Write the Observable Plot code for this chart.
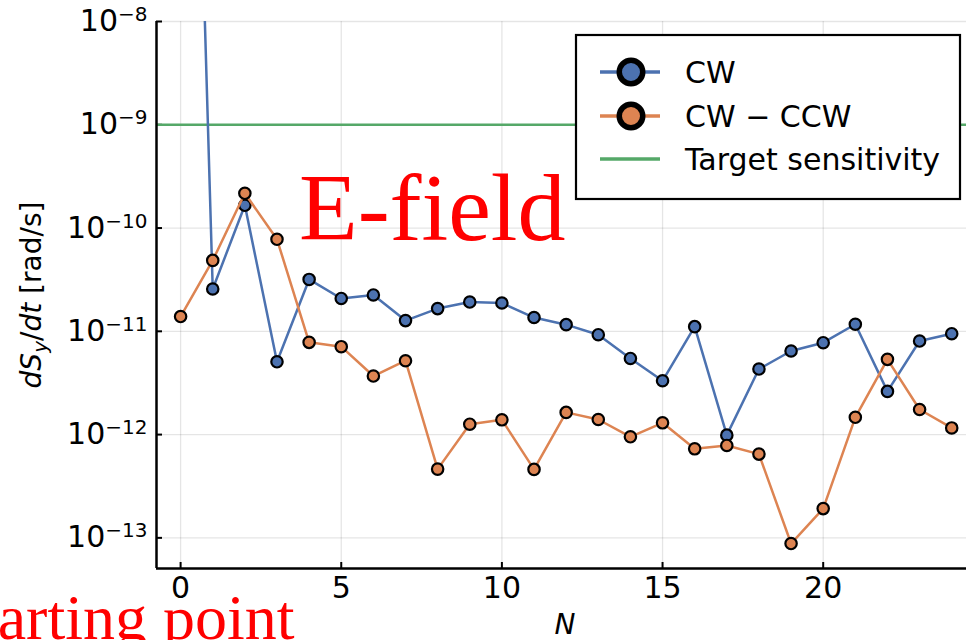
<!DOCTYPE html>
<html><head><meta charset="utf-8">
<script src="https://cdn.jsdelivr.net/npm/d3@7"></script>
<script src="https://cdn.jsdelivr.net/npm/@observablehq/plot@0.6"></script>
<style>html,body{margin:0;padding:0;background:#fff;} svg{display:block}</style>
</head><body><div id="chart"></div>
<script>
// ---- data ----
const N = [0,1,2,3,4,5,6,7,8,9,10,11,12,13,14,15,16,17,18,19,20,21,22,23,24];
const cw = [1.0, 2.57e-11, 1.66e-10, 5.07e-12, 3.18e-11, 2.08e-11, 2.25e-11, 1.27e-11, 1.66e-11, 1.92e-11, 1.88e-11, 1.36e-11, 1.16e-11, 9.27e-12, 5.46e-12, 3.32e-12, 1.11e-11, 9.88e-13, 4.31e-12, 6.45e-12, 7.76e-12, 1.17e-11, 2.62e-12, 8.05e-12, 9.48e-12];
const cwMinusCcw = [1.39e-11, 4.86e-11, 2.17e-10, 7.78e-11, 7.82e-12, 7.1e-12, 3.69e-12, 5.19e-12, 4.63e-13, 1.26e-12, 1.39e-12, 4.6e-13, 1.64e-12, 1.40e-12, 9.52e-13, 1.30e-12, 7.28e-13, 7.85e-13, 6.47e-13, 8.81e-14, 1.92e-13, 1.47e-12, 5.35e-12, 1.75e-12, 1.16e-12];
const targetSensitivity = [1e-9];
const seriesNames = ["CW", "CW \u2212 CCW", "Target sensitivity"];
const seriesColors = ["#4c72b0", "#dd8452", "#55a868"];
const xTicks = [0, 5, 10, 15, 20];
const yTicks = [1e-13, 1e-12, 1e-11, 1e-10, 1e-9, 1e-8];
const yTickExponents = ["\u221213", "\u221212", "\u221211", "\u221210", "\u22129", "\u22128"];
const xDomain = [-0.75, 24.46];
const yDomain = [5.05e-14, 1e-8];
const annotations = ["E-field", "starting point"];

// ---- layout ----
const W = 966, H = 640, mL = 156, mR = 0, mT = 21, mB = 72;
const frameW = W - mL - mR, frameH = H - mT - mB;

const cwData = N.map((n, i) => ({n, v: cw[i]}));
const diffData = N.map((n, i) => ({n, v: cwMinusCcw[i]}));

const plot = Plot.plot({
  width: W, height: H,
  marginLeft: mL, marginRight: mR, marginTop: mT, marginBottom: mB,
  style: {fontFamily: "DejaVu Sans", background: "white", color: "black"},
  x: {domain: xDomain},
  y: {type: "log", domain: yDomain},
  marks: [
    Plot.gridX(xTicks, {stroke: "black", strokeOpacity: 0.1, strokeWidth: 1.3}),
    Plot.gridY(yTicks, {stroke: "black", strokeOpacity: 0.1, strokeWidth: 1.3}),
    Plot.tickX(xTicks, {x: d => d, stroke: "black", strokeWidth: 2, insetTop: frameH - 6}),
    Plot.tickY(yTicks, {y: d => d, stroke: "black", strokeWidth: 2, insetRight: frameW - 6}),
    Plot.ruleY(targetSensitivity, {stroke: seriesColors[2], strokeWidth: 2.5}),
    Plot.line(cwData, {x: "n", y: "v", stroke: seriesColors[0], strokeWidth: 2.5, clip: true}),
    Plot.dot(cwData, {x: "n", y: "v", r: 5.7, fill: seriesColors[0], stroke: "black", strokeWidth: 2.2, clip: true}),
    Plot.line(diffData, {x: "n", y: "v", stroke: seriesColors[1], strokeWidth: 2.5, clip: true}),
    Plot.dot(diffData, {x: "n", y: "v", r: 5.7, fill: seriesColors[1], stroke: "black", strokeWidth: 2.2, clip: true}),
    Plot.axisX(xTicks, {tickSize: 0, tickPadding: 8, fontSize: 30, label: null, tickFormat: d => String(d)}),
    Plot.axisY(yTicks, {tickSize: 0, tickPadding: 9, fontSize: 30, label: null,
      tickFormat: d => "10^" + yTickExponents[yTicks.indexOf(d)]}),
    Plot.ruleX([xDomain[0]], {stroke: "black", strokeWidth: 2.5}),
    Plot.ruleY([yDomain[0]], {stroke: "black", strokeWidth: 2.5})
  ]
});
document.getElementById("chart").appendChild(plot);

const svg = d3.select(plot);

// superscript tick labels
svg.selectAll('g[aria-label="y-axis tick label"] text').each(function() {
  const t = this.textContent;
  if (!t.includes("^")) return;
  const [base, exp] = t.split("^");
  const s = d3.select(this);
  s.text(null);
  s.append("tspan").text(base);
  s.append("tspan").attr("dy", "-10").attr("font-size", "20px").text(exp);
});

// axis labels
const yl = svg.append("text")
  .attr("transform", "translate(41,295) rotate(-90)")
  .attr("text-anchor", "middle")
  .attr("font-family", "DejaVu Sans").attr("font-size", 28).attr("fill", "black");
yl.append("tspan").attr("font-style", "italic").text("dS");
yl.append("tspan").attr("font-style", "italic").attr("font-size", 20).attr("dy", 6).text("y");
yl.append("tspan").attr("dy", -6).text("/");
yl.append("tspan").attr("font-style", "italic").text("dt");
yl.append("tspan").text(" [rad/s]");

svg.append("text").attr("x", 565).attr("y", 634).attr("text-anchor", "middle")
  .attr("font-family", "DejaVu Sans").attr("font-style", "italic").attr("font-size", 28)
  .attr("fill", "black").text("N");

// legend
const lg = svg.append("g").attr("text-anchor", "start");
lg.append("rect").attr("x", 576).attr("y", 35).attr("width", 384).attr("height", 164)
  .attr("fill", "white").attr("stroke", "black").attr("stroke-width", 2.2);
const rows = [72, 116, 159];
seriesNames.forEach((name, i) => {
  const y = rows[i];
  lg.append("line").attr("x1", 600).attr("x2", 660).attr("y1", y).attr("y2", y)
    .attr("stroke", seriesColors[i]).attr("stroke-width", 3.5);
  if (i < 2) {
    lg.append("circle").attr("cx", 631).attr("cy", y).attr("r", 11.75)
      .attr("fill", seriesColors[i]).attr("stroke", "black").attr("stroke-width", 5.5);
  }
  lg.append("text").attr("x", 685).attr("y", y).attr("dy", "0.36em").attr("text-anchor", "start")
    .attr("font-family", "DejaVu Sans").attr("font-size", 30).attr("fill", "black").text(name);
});

// annotations
svg.append("text").attr("x", 299).attr("y", 240).attr("text-anchor", "start")
  .attr("font-family", "Liberation Serif").attr("font-size", 96).attr("fill", "red").text(annotations[0]);
svg.append("text").attr("x", -45).attr("y", 639).attr("text-anchor", "start")
  .attr("font-family", "Liberation Serif").attr("font-size", 64).attr("fill", "red").text(annotations[1]);
</script>
</body></html>
